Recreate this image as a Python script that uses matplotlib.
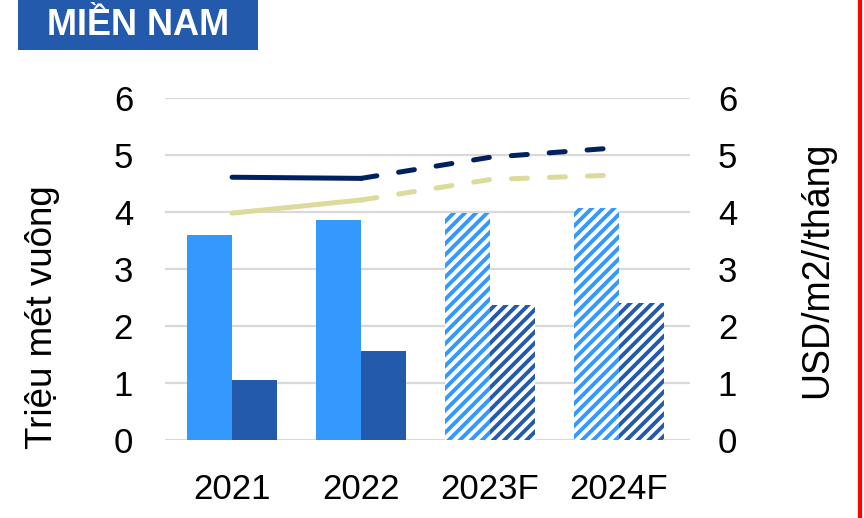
import matplotlib
matplotlib.use('Agg')
import matplotlib.pyplot as plt
from matplotlib.patches import Rectangle
from matplotlib.lines import Line2D

plt.rcParams['font.family'] = ['Liberation Sans', 'DejaVu Sans']
plt.rcParams['hatch.linewidth'] = 2.8

# 데이터
years = ['2021', '2022', '2023F', '2024F']
forecast = [False, False, True, True]
supply = [3.60, 3.86, 3.98, 4.07]      # 밝은 파랑 막대
occupied = [1.05, 1.56, 2.37, 2.40]    # 진한 파랑 막대
rent_a = [4.61, 4.59, 4.96, 5.13]      # 남색 선
rent_b = [3.98, 4.21, 4.57, 4.65]      # 카키 선

c_light = '#3399FF'
c_dark = '#245AAB'
c_navy = '#002060'
c_khaki = '#DDDB9B'

fig = plt.figure(figsize=(8.64, 5.18), dpi=100)
ax = fig.add_axes([165 / 864, 78 / 518, 525 / 864, 342 / 518])
ax2 = ax.twinx()

x = list(range(len(years)))
width = 0.35

for i in x:
    for off, val, col in [(-width / 2, supply[i], c_light), (width / 2, occupied[i], c_dark)]:
        if forecast[i]:
            ax.bar(i + off, val, width=width, facecolor='white', edgecolor=col,
                   linewidth=0, hatch='///', zorder=2)
        else:
            ax.bar(i + off, val, width=width, color=col, linewidth=0, zorder=2)

# 선: 실적(실선) + 전망(점선)
for vals, col in [(rent_a, c_navy), (rent_b, c_khaki)]:
    ax2.plot(x[:2], vals[:2], color=col, lw=3.6, solid_capstyle='round', zorder=3)
    ax2.plot(x[1:], vals[1:], color=col, lw=3.6, dashes=(3.2, 4.4),
             dash_capstyle='round', zorder=3)

for a in (ax, ax2):
    a.set_ylim(0, 6)
    a.set_yticks(range(0, 7))
    for s in a.spines.values():
        s.set_visible(False)
    a.tick_params(length=0, labelsize=25)

ax.set_xlim(-0.52, 3.55)
ax.set_xticks(x)
ax.set_xticklabels(years)
ax.tick_params(axis='x', pad=24)
ax.tick_params(axis='y', pad=23)
ax2.tick_params(axis='y', pad=20)
ax.grid(axis='y', color='#D9D9D9', lw=1.6, zorder=0)
ax.set_axisbelow(True)

ax.set_ylabel('Triệu mét vuông', fontsize=26.5)
ax2.set_ylabel('USD/m2//tháng', fontsize=27)
ax.yaxis.label.set_va('center')
ax2.yaxis.label.set_va('center')
ax.yaxis.set_label_coords(-0.234, 0.36)
ax2.yaxis.set_label_coords(1.242, 0.497)

# 제목 박스
fig.add_artist(Rectangle((18 / 864, 1 - 50 / 518), 240 / 864, 50 / 518,
                         transform=fig.transFigure, facecolor=c_dark, edgecolor='none'))
fig.text(138 / 864, 1 - 35 / 518, 'MIỀN NAM', color='white', fontsize=26,
         fontweight='bold', ha='center', va='baseline')

# 오른쪽 빨간 선
fig.add_artist(Line2D([860 / 864, 860 / 864], [0, 1], transform=fig.transFigure,
                      color='#FF0000', lw=3))

fig.savefig('out.png', dpi=100)
